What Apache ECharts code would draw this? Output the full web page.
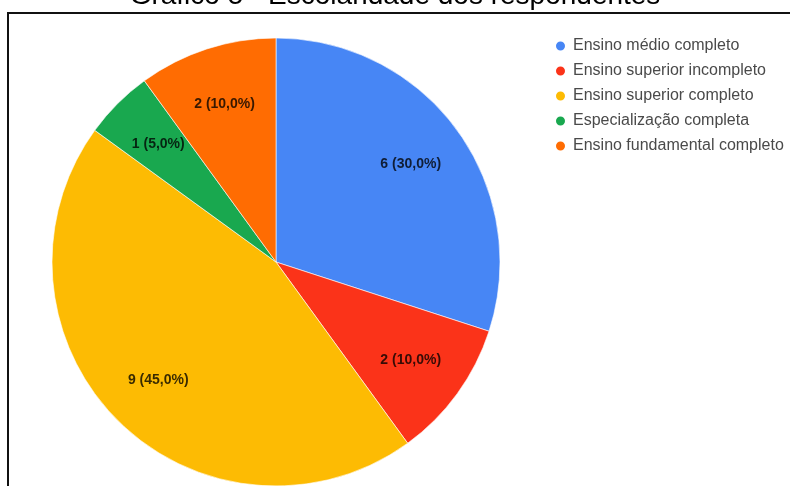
<!DOCTYPE html>
<html>
<head>
<meta charset="utf-8">
<script src="https://cdn.jsdelivr.net/npm/echarts@6/dist/echarts.min.js"></script>
<style>
  html, body { margin: 0; padding: 0; background: #ffffff; }
  #chart { width: 790px; height: 486px; }
</style>
</head>
<body>
<div id="chart"></div>
<script>
// Escolaridade dos respondentes (n = 20)
const categories = [
  'Ensino médio completo',
  'Ensino superior incompleto',
  'Ensino superior completo',
  'Especialização completa',
  'Ensino fundamental completo'
];
const counts = [6, 2, 9, 1, 2];
const sliceColors = ['#4786f5', '#fb3319', '#fdbb03', '#19a84f', '#ff6c02'];
const titleText = 'Gráfico 5 - Escolaridade dos respondentes';

const total = counts.reduce((a, b) => a + b, 0);
const pieData = categories.map((name, i) => ({
  name: name,
  value: counts[i],
  itemStyle: { color: sliceColors[i] }
}));

const fmtLabel = p => p.value + ' (' + (p.value / total * 100).toFixed(1).replace('.', ',') + '%)';

const chart = echarts.init(document.getElementById('chart'), null, { renderer: 'canvas' });
chart.setOption({
  backgroundColor: '#ffffff',
  animation: false,
  title: {
    text: titleText,
    left: 'center',
    top: -23,
    textStyle: {
      fontFamily: 'Liberation Sans, Arial, sans-serif',
      fontSize: 28,
      fontWeight: 'normal',
      color: '#000000'
    }
  },
  legend: {
    orient: 'vertical',
    left: 554,
    top: 38,
    padding: 0,
    itemGap: 9,
    itemWidth: 11,
    itemHeight: 11,
    icon: 'circle',
    data: categories,
    textStyle: {
      fontFamily: 'Liberation Sans, Arial, sans-serif',
      fontSize: 16,
      color: '#4a4a4a',
      padding: [0, 0, 0, 2]
    }
  },
  graphic: [
    { type: 'line', shape: { x1: 8, y1: 13, x2: 790, y2: 13 }, style: { stroke: '#111', lineWidth: 2 } },
    { type: 'line', shape: { x1: 8, y1: 12, x2: 8, y2: 486 }, style: { stroke: '#111', lineWidth: 2 } }
  ],
  series: [
    {
      type: 'pie',
      center: [276, 262],
      radius: [0, 224],
      startAngle: 90,
      clockwise: true,
      avoidLabelOverlap: false,
      label: { show: false },
      labelLine: { show: false },
      itemStyle: { borderColor: '#ffffff', borderWidth: 0.6 },
      emphasis: { disabled: true },
      data: pieData
    },
    {
      // transparent ring that only carries the value labels
      type: 'pie',
      center: [276, 262],
      radius: [103, 224],
      startAngle: 90,
      clockwise: true,
      silent: true,
      legendHoverLink: false,
      avoidLabelOverlap: false,
      itemStyle: { color: 'rgba(0,0,0,0)' },
      label: {
        show: true,
        position: 'inside',
        formatter: fmtLabel,
        fontFamily: 'Liberation Sans, Arial, sans-serif',
        fontSize: 14,
        fontWeight: 'bold',
        color: 'rgba(0,0,0,0.78)'
      },
      labelLine: { show: false },
      emphasis: { disabled: true },
      data: categories.map((name, i) => ({ name: name + ' ', value: counts[i] }))
    }
  ]
});
</script>
</body>
</html>
